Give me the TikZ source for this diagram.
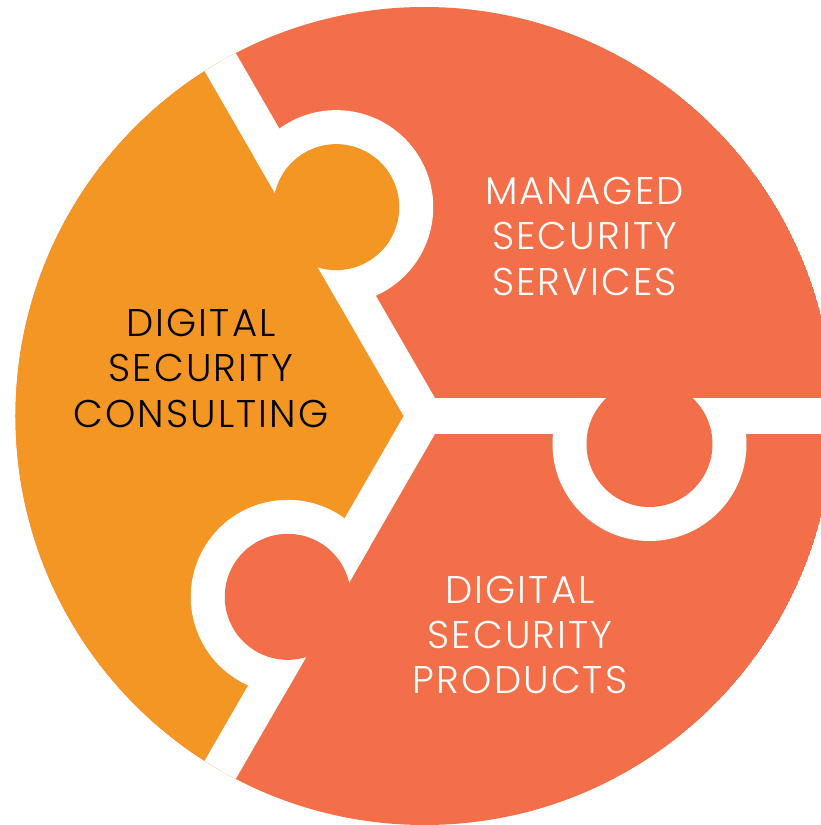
\documentclass[tikz,border=0pt]{standalone}
\usepackage{fontspec}
\newfontfamily\lblfont[LetterSpace=5.5]{Poppins Light}
\definecolor{pOrange}{RGB}{243,150,36}
\definecolor{pRed}{RGB}{242,111,74}
\begin{document}
\begin{tikzpicture}[x=1pt,y=1pt,
  lbl/.style={font=\lblfont\fontsize{38.6}{45}\selectfont, anchor=base, inner sep=0pt},
  gapband/.style={line width=36pt, draw=white},
]
\useasboundingbox (-424.5,-409) rectangle (396.5,416);
\begin{scope}
  \clip (0,0) circle (409);
  \fill[pRed] (0,0) circle (409);
  \fill[pOrange] (0,0) -- (120:520) arc (120:240:520) -- cycle;
  \foreach \a in {0,120,240} \draw[gapband] (0,0) -- (\a:540);
  \foreach \a/\col in {120/pOrange, 0/pRed, 240/pRed} {
    \begin{scope}[rotate=\a]
      \begin{scope}
        \clip (100,-200) rectangle (420,18);
        \fill[white] (225,-28) circle (97);
      \end{scope}
      \fill[\col] (225,-28) circle (63);
    \end{scope}
  }
\end{scope}
% labels
\node[lbl, text=black] (c1) at (-223.5,80) {DIGITAL};
\node[lbl, text=black] (c2) at (-223.5,35) {SECURITY};
\node[lbl, text=black] (c3) at (-223.5,-11) {CONSULTING};
\node[lbl, text=white] (m1) at (160,211) {MANAGED};
\node[lbl, text=white] (m2) at (160,166) {SECURITY};
\node[lbl, text=white] (m3) at (160,121) {SERVICES};
\node[lbl, text=white] (p1) at (95.5,-187) {DIGITAL};
\node[lbl, text=white] (p2) at (95.5,-232) {SECURITY};
\node[lbl, text=white] (p3) at (95.5,-277) {PRODUCTS};
\end{tikzpicture}
\end{document}
